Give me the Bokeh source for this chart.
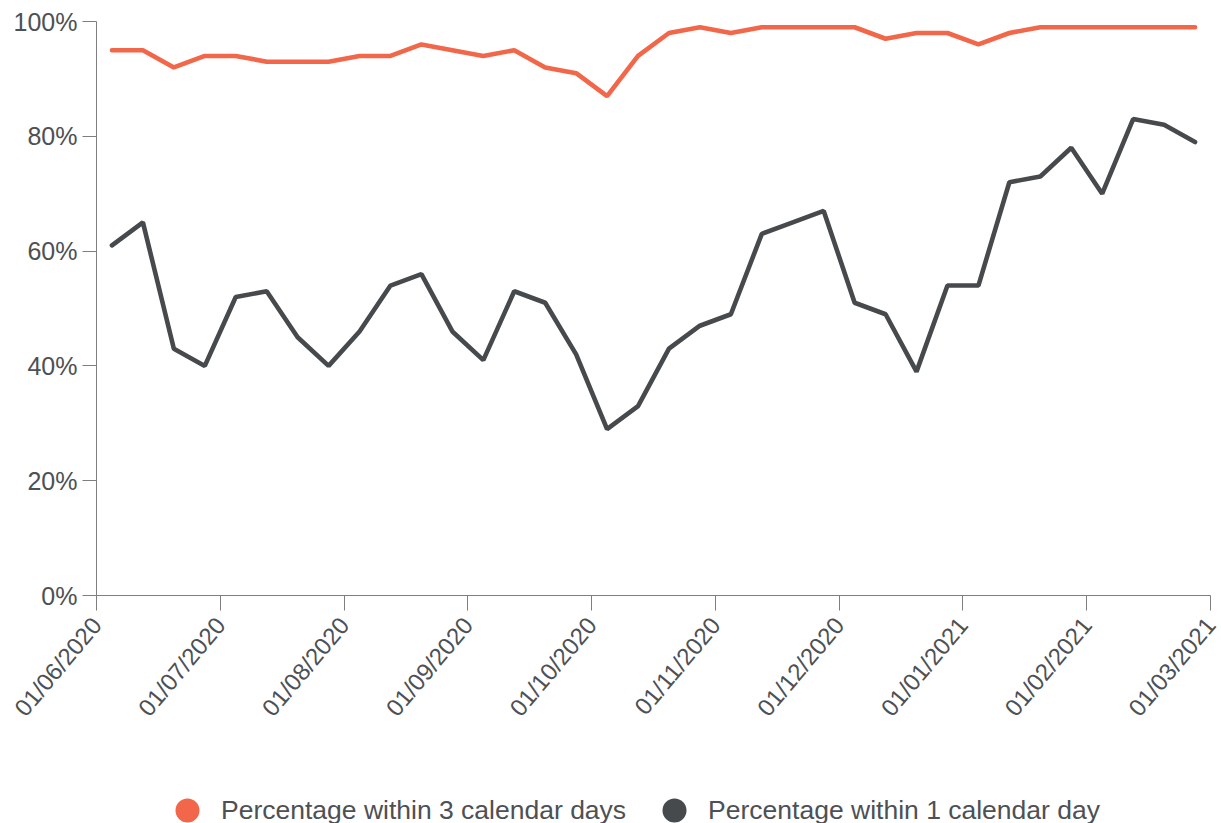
import math
from bokeh.plotting import figure
from bokeh.layouts import column
from bokeh.models import (Range1d, FixedTicker, PrintfTickFormatter, Legend, LegendItem,
                          CustomJSTickFormatter)
from bokeh.embed import file_html
from bokeh.resources import INLINE

# ---- data ----
month_labels = ["01/06/2020", "01/07/2020", "01/08/2020", "01/09/2020", "01/10/2020",
                "01/11/2020", "01/12/2020", "01/01/2021", "01/02/2021", "01/03/2021"]
weeks_per_month = 4
pct_within_3_days = [95, 95, 92, 94, 94, 93, 93, 93, 94, 94, 96, 95, 94, 95, 92, 91, 87, 94,
                     98, 99, 98, 99, 99, 99, 99, 97, 98, 98, 96, 98, 99, 99, 99, 99, 99, 99]
pct_within_1_day = [61, 65, 43, 40, 52, 53, 45, 40, 46, 54, 56, 46, 41, 53, 51, 42, 29, 33,
                    43, 47, 49, 63, 65, 67, 51, 49, 39, 54, 54, 72, 73, 78, 70, 83, 82, 79]
y_ticks = [0, 20, 40, 60, 80, 100]
series_names = ["Percentage within 3 calendar days", "Percentage within 1 calendar day"]

ORANGE = "#f2674a"
DARK = "#474a4d"
TEXT = "#4d5054"
AXIS = "#7f7f7f"
FONT = "Liberation Sans"

week_pos = [(i + 0.5) / weeks_per_month for i in range(len(pct_within_3_days))]

W = 1221
H_MAIN = 743
H_LEG = 80
TOP, LEFT, RIGHT = 21, 96, 11
FRAME_BOTTOM = 595

p = figure(width=W, height=H_MAIN, output_backend="svg", toolbar_location=None,
           x_range=Range1d(0, len(month_labels) - 1), y_range=Range1d(0, 100),
           min_border_left=LEFT, min_border_right=RIGHT, min_border_top=TOP,
           min_border_bottom=H_MAIN - FRAME_BOTTOM)
p.grid.visible = False
p.outline_line_color = None
p.background_fill_color = "white"
p.border_fill_color = "white"

# x axis
xa = p.xaxis[0]
xa.ticker = FixedTicker(ticks=list(range(len(month_labels))))
xa.formatter = CustomJSTickFormatter(args=dict(labels=month_labels),
                                     code="const i = Math.round(tick); return labels[i] || '';")
xa.axis_line_color = AXIS
xa.major_tick_line_color = AXIS
xa.major_tick_out = 15
xa.major_tick_in = 0
xa.minor_tick_line_color = None
xa.major_label_orientation = math.radians(50)
xa.major_label_text_font = FONT
xa.major_label_text_font_size = "24px"
xa.major_label_text_color = TEXT
xa.major_label_standoff = 10

# y axis
ya = p.yaxis[0]
ya.ticker = FixedTicker(ticks=y_ticks)
ya.formatter = PrintfTickFormatter(format="%d%%")
ya.axis_line_color = AXIS
ya.major_tick_line_color = AXIS
ya.major_tick_out = 14
ya.major_tick_in = 0
ya.minor_tick_line_color = None
ya.major_label_text_font = FONT
ya.major_label_text_font_size = "25px"
ya.major_label_text_color = TEXT
ya.major_label_standoff = 5

p.line(week_pos, pct_within_3_days, line_color=ORANGE, line_width=4.6, line_cap="round")
p.line(week_pos, pct_within_1_day, line_color=DARK, line_width=4.6, line_cap="round")

# ---- legend strip (frame is aligned with the main plot's frame by the column layout) ----
lp = figure(width=W, height=H_LEG, output_backend="svg", toolbar_location=None,
            x_axis_location=None, y_axis_location=None,
            min_border_left=LEFT, min_border_right=RIGHT, min_border_top=0, min_border_bottom=0)
lp.grid.visible = False
lp.outline_line_color = None
lp.border_fill_color = "white"
# size-0 markers: nothing shows in the strip, only the legend swatches are drawn
r3 = lp.scatter(week_pos, pct_within_3_days, marker="circle", size=0,
                fill_color=ORANGE, line_color=None)
r1 = lp.scatter(week_pos, pct_within_1_day, marker="circle", size=0,
                fill_color=DARK, line_color=None)

glyph = 60
legend_center_y = 67
legend = Legend(items=[LegendItem(label=series_names[0], renderers=[r3]),
                       LegendItem(label=series_names[1], renderers=[r1])],
                orientation="horizontal",
                location=(157 - LEFT, H_LEG - legend_center_y - glyph / 2),
                glyph_width=glyph, glyph_height=glyph, label_standoff=4, spacing=18,
                padding=0, margin=0, border_line_color=None, background_fill_alpha=0,
                label_text_font=FONT, label_text_font_size="26.5px", label_text_color=TEXT)
lp.add_layout(legend, "center")

layout = column(p, lp, spacing=0)
open("out.html", "w").write(file_html(layout, INLINE))
